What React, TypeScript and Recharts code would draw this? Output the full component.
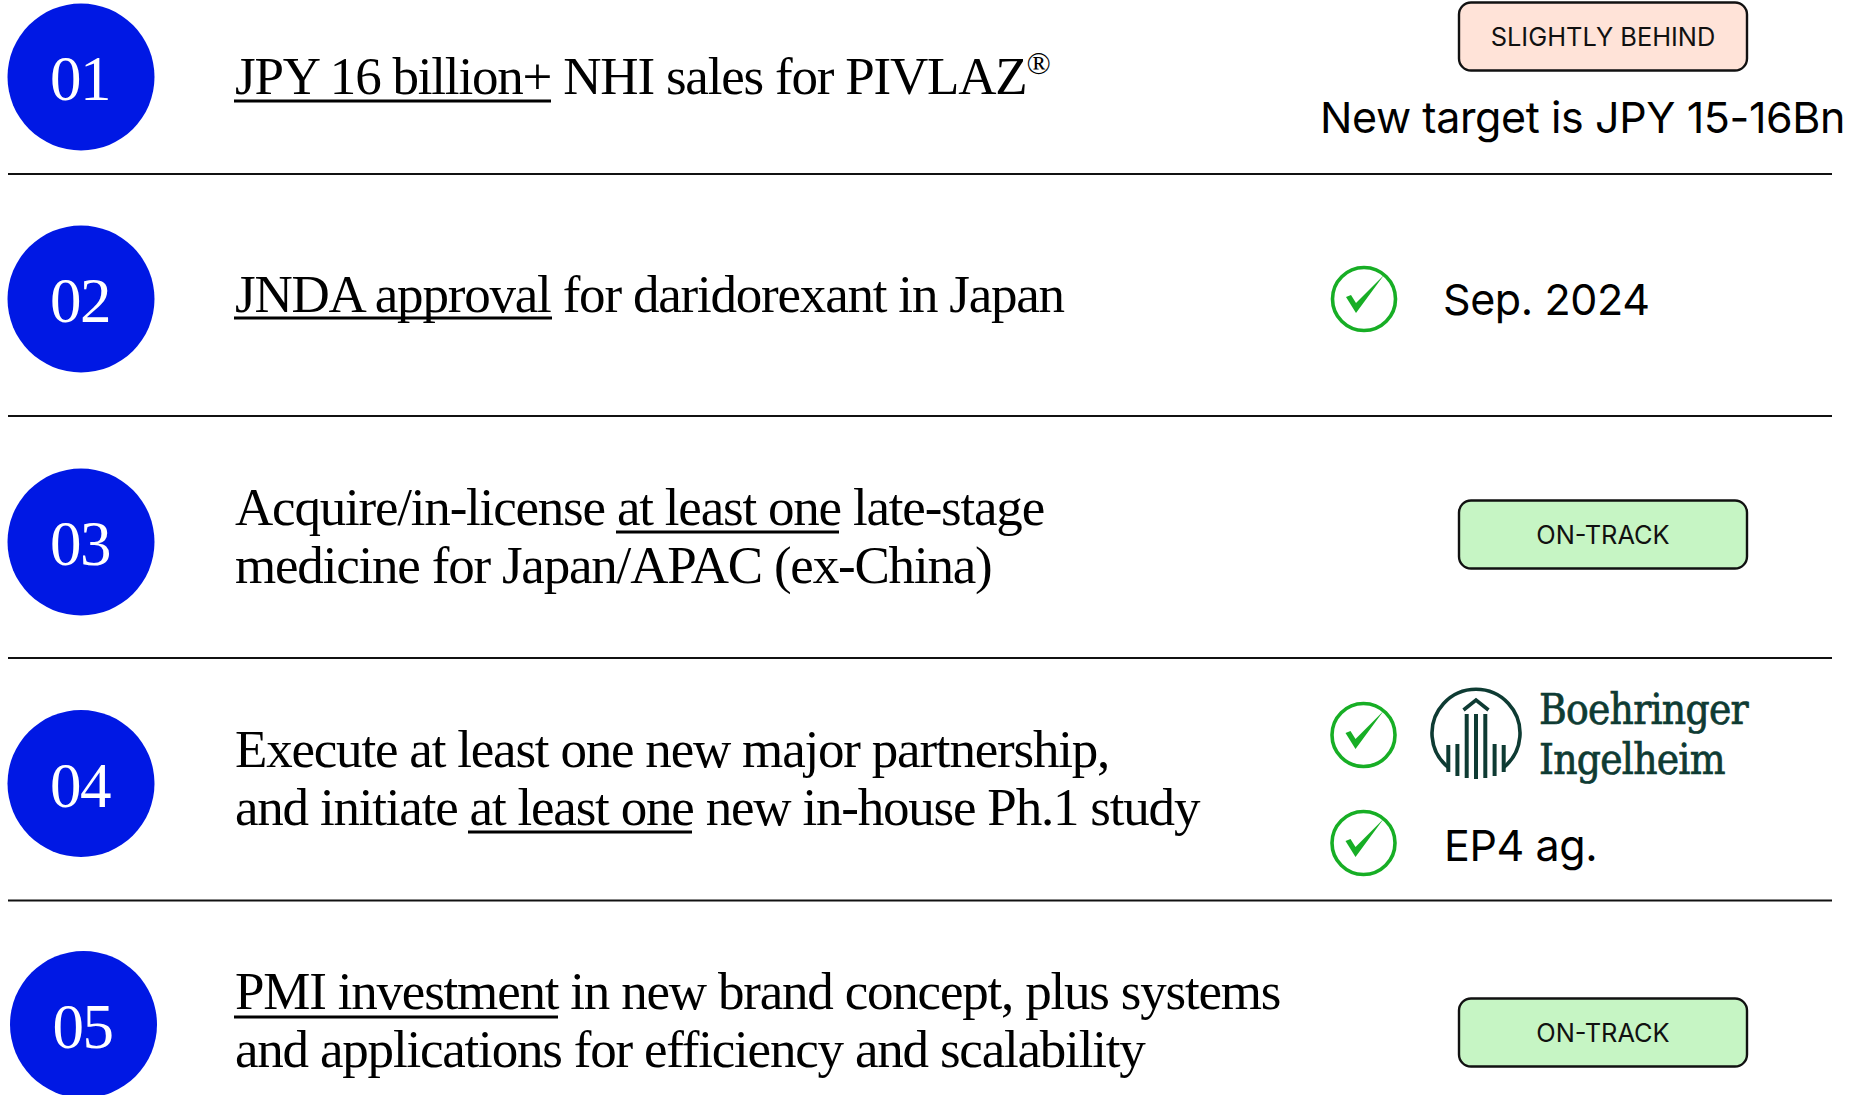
import { ReferenceLine, Scatter, ScatterChart, XAxis, YAxis } from 'recharts'

const WIDTH = 1858
const HEIGHT = 1095

const SERIF = '"Liberation Serif", serif'
const SANS = 'Inter, sans-serif'
const BLUE = '#0018e4'
const GREEN = '#17ae25'
const LOGO = '#0e3b33'

// goal rows, all positions are in the chart's own 0-1858 / 0-1095 axis units
const badgeLabels = ['01', '02', '03', '04', '05']
const badgeX = [81, 81, 81, 81, 83.5]
const badgeY = [77, 299, 542, 783.5, 1024.5]

const goalText = [
  'JPY 16 billion+ NHI sales for PIVLAZ',
  'JNDA approval for daridorexant in Japan',
  'Acquire/in-license at least one late-stage',
  'medicine for Japan/APAC (ex-China)',
  'Execute at least one new major partnership,',
  'and initiate at least one new in-house Ph.1 study',
  'PMI investment in new brand concept, plus systems',
  'and applications for efficiency and scalability',
]
const goalBaseline = [94, 312, 525, 583, 767, 825, 1009, 1067]
const goalLeft = 235

const underlineFrom = [234, 234, 616, 468, 234]
const underlineTo = [551, 552, 839, 692, 558]
const underlineY = [101, 318, 532, 832, 1017]

const dividerY = [174, 416, 658, 900.5]
const dividerFrom = 8
const dividerTo = 1832

const pillLabels = ['SLIGHTLY BEHIND', 'ON-TRACK', 'ON-TRACK']
const pillY = [36.5, 534.5, 1032.5]
const pillFill = ['#ffe3d8', '#c6f5c4', '#c6f5c4']
const pillX = 1603

const checkX = [1364, 1363.5, 1363.5]
const checkY = [299, 735, 843]

const noteText = ['New target is JPY 15-16Bn', 'Sep. 2024', 'EP4 ag.']
const noteX = [1320, 1443, 1444]
const noteBaseline = [133, 315, 861]

const logoWords = ['Boehringer', 'Ingelheim']
const logoWordY = [724, 774]

const zip = <T,>(xs: number[], ys: number[], extra: T[]) =>
  xs.map((x, i) => ({ x, y: ys[i], value: extra[i] }))

const badges = zip(badgeX, badgeY, badgeLabels)
const goals = zip(goalBaseline.map(() => goalLeft), goalBaseline, goalText)
const pills = zip(pillY.map(() => pillX), pillY, pillLabels.map((label, i) => ({ label, fill: pillFill[i] })))
const checks = zip(checkX, checkY, checkX)
const notes = zip(noteX, noteBaseline, noteText)
const logoMark = [{ x: 1476, y: 733 }]
const logoText = zip(logoWordY.map(() => 1539), logoWordY, logoWords)

function Badge({ cx, cy, payload }: any) {
  return (
    <g>
      <circle cx={cx} cy={cy} r={73.5} fill={BLUE} />
      <text x={cx - 1} y={cy + 23} textAnchor="middle" fontFamily={SERIF} fontSize={63} letterSpacing={-1.5} fill="#fff">
        {payload.value}
      </text>
    </g>
  )
}

function GoalLine({ cx, cy, payload }: any) {
  const sup = payload.value.endsWith('PIVLAZ')
  return (
    <text x={cx} y={cy} fontFamily={SERIF} fontSize={53} letterSpacing={-1.2} fill="#000">
      {payload.value}
      {sup && (
        <tspan dy={-20} fontSize={32}>
          ®
        </tspan>
      )}
    </text>
  )
}

function Pill({ cx, cy, payload }: any) {
  return (
    <g>
      <rect x={cx - 144} y={cy - 34} width={288} height={68} rx={12} fill={payload.value.fill} stroke="#111" strokeWidth={2.4} />
      <text x={cx} y={cy + 9} textAnchor="middle" fontFamily={SANS} fontSize={25.4} fill="#111">
        {payload.value.label}
      </text>
    </g>
  )
}

function Check({ cx, cy }: any) {
  return (
    <g>
      <circle cx={cx} cy={cy} r={31.5} fill="none" stroke={GREEN} strokeWidth={3.6} />
      <polygon
        transform={`translate(${cx} ${cy})`}
        points="-18,-2 -13,-4 -8,4 20,-24 -8,14"
        fill={GREEN}
      />
    </g>
  )
}

function Note({ cx, cy, payload }: any) {
  return (
    <text x={cx} y={cy} fontFamily={SANS} fontSize={43} letterSpacing={-0.4} fill="#000">
      {payload.value}
    </text>
  )
}

function LogoMark({ cx, cy }: any) {
  const bars = [
    [-27.7, 12, 39],
    [-18.6, 11, 43],
    [-9.3, -19, 45],
    [0, -19, 46],
    [9.3, -19, 45],
    [18.6, 11, 43],
    [27.7, 12, 39],
  ]
  return (
    <g transform={`translate(${cx} ${cy})`} fill="none" stroke={LOGO}>
      <path d="M -27 35 A 44 44 0 1 1 27 35" strokeWidth={3.6} />
      {bars.map(([dx, y1, y2]) => (
        <line key={dx} x1={dx} x2={dx} y1={y1} y2={y2} strokeWidth={4} />
      ))}
      <path d="M -12.5 -23 L 0 -33 L 12.5 -23" strokeWidth={3.6} />
    </g>
  )
}

function LogoWord({ cx, cy, payload }: any) {
  return (
    <text
      x={cx}
      y={cy}
      fontFamily={'"DejaVu Serif", serif'}
      fontStretch="condensed"
      fontSize={42}
      letterSpacing={-0.75}
      fill={LOGO}
      stroke={LOGO}
      strokeWidth={0.7}
    >
      {payload.value}
    </text>
  )
}

export default function App() {
  return (
    <div style={{ position: 'absolute', left: 0, top: 0, width: WIDTH, height: HEIGHT, background: '#fff', overflow: 'hidden' }}>
      <ScatterChart width={WIDTH} height={HEIGHT} margin={{ top: 0, right: 0, bottom: 0, left: 0 }}>
        <XAxis type="number" dataKey="x" domain={[0, WIDTH]} hide />
        <YAxis type="number" dataKey="y" domain={[0, HEIGHT]} reversed hide />
        {dividerY.map((y) => (
          <ReferenceLine
            key={y}
            segment={[
              { x: dividerFrom, y },
              { x: dividerTo, y },
            ]}
            stroke="#111"
            strokeWidth={2}
          />
        ))}
        {underlineY.map((y, i) => (
          <ReferenceLine
            key={y}
            segment={[
              { x: underlineFrom[i], y },
              { x: underlineTo[i], y },
            ]}
            stroke="#000"
            strokeWidth={3}
          />
        ))}
        <Scatter data={badges} shape={Badge} isAnimationActive={false} />
        <Scatter data={goals} shape={GoalLine} isAnimationActive={false} />
        <Scatter data={pills} shape={Pill} isAnimationActive={false} />
        <Scatter data={checks} shape={Check} isAnimationActive={false} />
        <Scatter data={notes} shape={Note} isAnimationActive={false} />
        <Scatter data={logoMark} shape={LogoMark} isAnimationActive={false} />
        <Scatter data={logoText} shape={LogoWord} isAnimationActive={false} />
      </ScatterChart>
    </div>
  )
}
